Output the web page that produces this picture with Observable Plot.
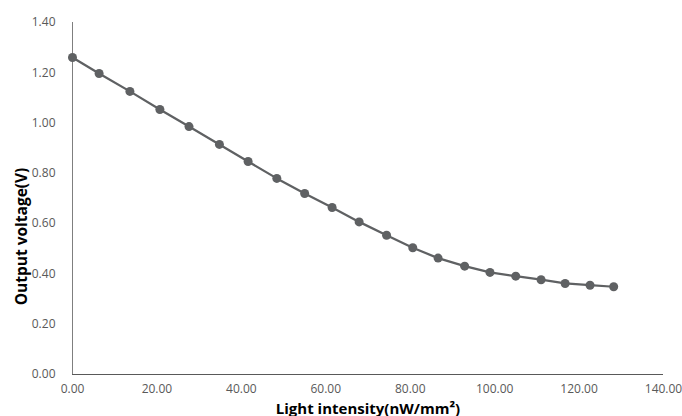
<!DOCTYPE html>
<html>
<head>
<meta charset="utf-8">
<script src="https://cdn.jsdelivr.net/npm/d3@7"></script>
<script src="https://cdn.jsdelivr.net/npm/@observablehq/plot@0.6"></script>
<style>
  html, body { margin: 0; padding: 0; background: #fff; }
  #chart svg { display: block; }
</style>
</head>
<body>
<div id="chart"></div>
<script>
const intensity = [0, 6.3, 13.6, 20.7, 27.6, 34.8, 41.6, 48.4, 55.0, 61.5, 67.9, 74.4, 80.6, 86.6, 92.9, 98.9, 105.0, 111.0, 116.7, 122.6, 128.2];
const voltage = [1.261, 1.197, 1.126, 1.054, 0.986, 0.915, 0.847, 0.780, 0.720, 0.664, 0.607, 0.554, 0.504, 0.463, 0.431, 0.406, 0.391, 0.377, 0.362, 0.355, 0.349];
const xTicks = [0, 20, 40, 60, 80, 100, 120, 140];
const yTicks = [0, 0.2, 0.4, 0.6, 0.8, 1.0, 1.2, 1.4];
const xTitle = "Light intensity(nW/mm²)";
const yTitle = "Output voltage(V)";

const data = intensity.map((x, i) => ({x, y: voltage[i]}));
const fmt = d3.format(".2f");

const plot = Plot.plot({
  width: 682,
  height: 416,
  marginLeft: 72,
  marginRight: 19,
  marginTop: 22,
  marginBottom: 42,
  style: {fontFamily: "'Open Sans', sans-serif", fontSize: "12px", color: "#595959", background: "#fff"},
  x: {domain: [0, 140]},
  y: {domain: [0, 1.4]},
  marks: [
    Plot.axisX(xTicks, {tickSize: 0, tickPadding: 10, tickFormat: fmt, label: null, fill: "#595959", fontSize: 12}),
    Plot.axisY(yTicks, {tickSize: 0, tickPadding: 17, tickFormat: fmt, label: null, fill: "#595959", fontSize: 12}),
    Plot.ruleX([0], {y1: 0, y2: 1.4, stroke: "#7f7f7f", strokeWidth: 1}),
    Plot.ruleY([0], {x1: 0, x2: 140, stroke: "#595959", strokeWidth: 1}),
    Plot.line(data, {x: "x", y: "y", stroke: "#5f6163", strokeWidth: 2.25}),
    Plot.dot(data, {x: "x", y: "y", r: 4.5, fill: "#5f6163", stroke: "none"}),
    Plot.text([xTitle], {frameAnchor: "bottom", dy: 39, fontSize: 15, fontWeight: "bold", fill: "#000"}),
    Plot.text([yTitle], {frameAnchor: "left", textAnchor: "middle", dx: -50, dy: 38, rotate: -90, fontSize: 15.5, fontWeight: "bold", fill: "#000"})
  ]
});
document.getElementById("chart").appendChild(plot);
</script>
</body>
</html>
